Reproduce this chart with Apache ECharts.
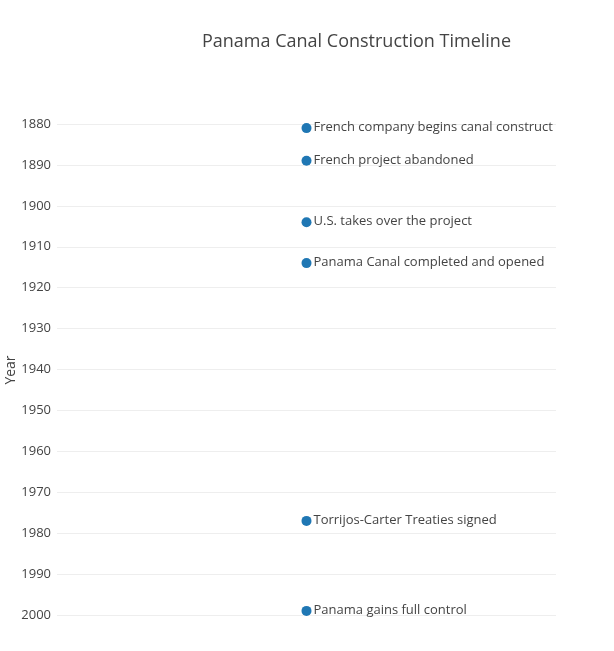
<!DOCTYPE html>
<html>
<head>
<meta charset="utf-8">
<script src="https://cdn.jsdelivr.net/npm/echarts@6/dist/echarts.min.js"></script>
<style>
    html, body { margin: 0; padding: 0; background: #fff; }
    #chart { width: 614px; height: 651px; }
</style>
</head>
<body>
<div id="chart"></div>
<script>
var years = [1881, 1889, 1904, 1914, 1977, 1999];
var events = [
    'French company begins canal construction',
    'French project abandoned',
    'U.S. takes over the project',
    'Panama Canal completed and opened',
    'Torrijos-Carter Treaties signed',
    'Panama gains full control'
];
var yearTicks = [1880, 1890, 1900, 1910, 1920, 1930, 1940, 1950, 1960, 1970, 1980, 1990, 2000];

var font = '"Open Sans", "DejaVu Sans", sans-serif';
var myChart = echarts.init(document.getElementById('chart'));

var points = years.map(function (y, i) {
    return { value: [0, y], name: events[i] };
});

var option = {
    backgroundColor: '#fff',
    animation: false,
    title: {
        text: 'Panama Canal Construction Timeline',
        left: 197,
        top: 28,
        textStyle: { fontFamily: font, fontSize: 18, fontWeight: 'normal', color: '#444' }
    },
    // axis title drawn by hand so it sits where the reference has it
    graphic: [{
        type: 'text',
        x: 11,
        y: 370,
        rotation: Math.PI / 2,
        style: {
            text: 'Year',
            fontFamily: font,
            fontSize: 14,
            fill: '#444',
            align: 'center',
            verticalAlign: 'middle'
        }
    }],
    grid: { left: 57, right: 58, top: 124, bottom: 36, outerBoundsMode: 'none', containLabel: false },
    xAxis: {
        type: 'value',
        min: -1,
        max: 1,
        show: false
    },
    yAxis: {
        type: 'value',
        inverse: true,
        min: yearTicks[0],
        max: yearTicks[yearTicks.length - 1],
        interval: 10,
        axisLine: { show: false },
        axisTick: { show: false },
        axisLabel: {
            fontFamily: font, fontSize: 13, color: '#444', margin: 6,
            formatter: function (v) { return String(v); }
        },
        splitLine: { lineStyle: { color: '#eeeeee', width: 1 } }
    },
    series: [{
        type: 'scatter',
        symbolSize: 10,
        itemStyle: { color: '#1f77b4', opacity: 1 },
        data: points,
        label: {
            show: true,
            position: 'right',
            distance: 2,
            offset: [0, -1],
            formatter: function (p) { return p.name; },
            fontFamily: font,
            fontSize: 13,
            color: '#444',
            width: 243,
            overflow: 'truncate',
            ellipsis: ''
        }
    }]
};
myChart.setOption(option);
</script>
</body>
</html>
